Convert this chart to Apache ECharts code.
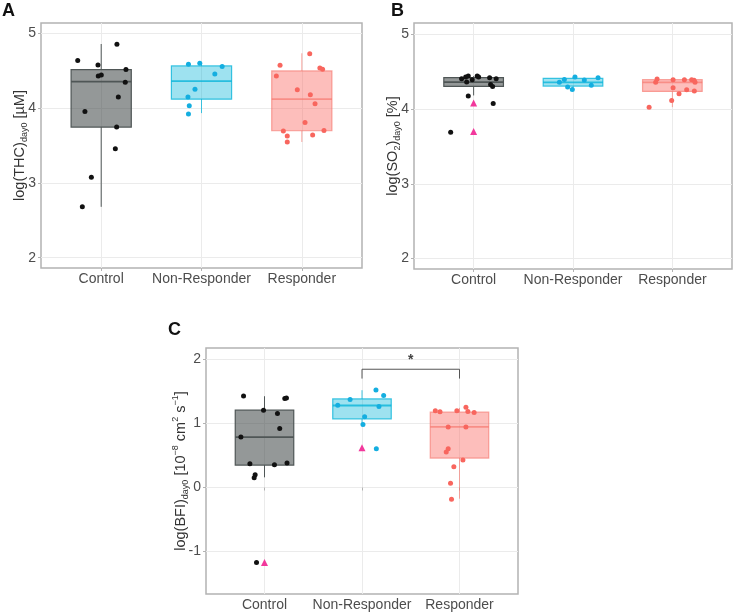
<!DOCTYPE html>
<html>
<head>
<meta charset="utf-8">
<script src="https://cdn.jsdelivr.net/npm/echarts@6/dist/echarts.min.js"></script>
<style>html,body{margin:0;padding:0;background:#fff}#c{width:738px;height:615px}</style>
</head>
<body>
<div id="c"></div>
<script>
// ---------- data ----------
const categories = ['Control', 'Non-Responder', 'Responder'];
const yTicksAB = [2, 3, 4, 5];
const yTicksC = [-1, 0, 1, 2];

// Panel A: log(THC) — box stats [lower, q1, median, q3, upper]
const thcBoxes = [
  [2.68, 3.747, 4.355, 4.515, 4.857],
  [3.933, 4.12, 4.36, 4.564, 4.6],
  [3.547, 3.697, 4.12, 4.497, 4.733]
];
const thcControl = [4.635, 4.853, 4.577, 4.43, 4.444, 4.515, 4.347, 4.147, 3.955, 3.747, 3.457, 3.075, 2.68];
const thcControlJit = [-0.234, 0.157, -0.032, -0.029, 0.001, 0.247, 0.240, 0.171, -0.162, 0.154, 0.141, -0.098, -0.188];
const thcNonResp = [4.587, 4.6, 4.555, 4.457, 4.253, 4.147, 4.031, 3.92];
const thcNonRespJit = [-0.13, -0.017, 0.206, 0.133, -0.065, -0.135, -0.122, -0.13];
const thcResp = [4.728, 4.573, 4.43, 4.537, 4.52, 4.244, 4.177, 4.057, 3.808, 3.693, 3.701, 3.627, 3.64, 3.547];
const thcRespJit = [0.079, -0.217, -0.254, 0.18, 0.207, -0.045, 0.085, 0.132, 0.032, -0.184, 0.221, -0.145, 0.108, -0.145];

// Panel B: log(SO2)
const so2Boxes = [
  [4.185, 4.306, 4.364, 4.423, 4.444],
  [4.266, 4.31, 4.36, 4.413, 4.431],
  [4.028, 4.239, 4.36, 4.396, 4.404]
];
const so2Control = [4.409, 4.431, 4.444, 4.364, 4.396, 4.444, 4.431, 4.423, 4.409, 4.333, 4.306, 4.176, 4.078, 3.693];
const so2ControlJit = [-0.121, -0.08, -0.054, -0.07, -0.014, 0.036, 0.05, 0.161, 0.227, 0.171, 0.191, -0.054, 0.197, -0.231];
const so2ControlTri = [4.082, 3.702];
const so2NonResp = [4.36, 4.4, 4.297, 4.266, 4.431, 4.391, 4.32, 4.423];
const so2NonRespJit = [-0.137, -0.087, -0.054, -0.007, 0.02, 0.114, 0.184, 0.252];
const so2Resp = [4.404, 4.36, 4.396, 4.396, 4.396, 4.387, 4.36, 4.289, 4.262, 4.243, 4.208, 4.118, 4.028];
const so2RespJit = [-0.154, -0.168, 0.007, 0.121, 0.194, 0.218, 0.228, 0.007, 0.144, 0.221, 0.067, -0.007, -0.234];

// Panel C: log(BFI)
const bfiBoxes = [
  [0.159, 0.351, 0.788, 1.209, 1.427],
  [0.98, 1.073, 1.282, 1.385, 1.521],
  [-0.175, 0.46, 0.949, 1.178, 1.245]
];
const bfiControl = [1.432, 1.391, 1.401, 1.209, 1.157, 0.923, 0.788, 0.371, 0.356, 0.382, 0.2, 0.153, -1.173];
const bfiControlJit = [-0.215, 0.208, 0.225, -0.01, 0.133, 0.156, -0.242, -0.15, 0.102, 0.231, -0.096, -0.106, -0.082];
const bfiControlTri = [-1.173];
const bfiNonResp = [1.287, 1.376, 1.526, 1.438, 1.267, 1.105, 0.986, 0.605];
const bfiNonRespJit = [-0.249, -0.122, 0.143, 0.222, 0.174, 0.027, 0.01, 0.147];
const bfiNonRespTri = [0.621];
const bfiResp = [1.2, 1.183, 1.2, 1.256, 1.188, 1.173, 0.944, 0.944, 0.605, 0.554, 0.429, 0.325, 0.066, -0.184];
const bfiRespJit = [-0.248, -0.2, -0.027, 0.066, 0.086, 0.15, -0.116, 0.066, -0.116, -0.136, 0.035, -0.058, -0.092, -0.082];
// significance bracket: [from category, to category, bar level, tick end, star level]
const bfiSignif = [[2, 3, 1.849, 1.703, 1.99]];
const bfiSignifLabel = '*';

// ---------- styles ----------
const boxFill = ['rgba(60,68,68,0.55)', 'rgba(0,178,216,0.38)', 'rgba(250,110,105,0.45)'];
const boxLine = ['#4f5656', 'rgba(0,178,216,0.75)', 'rgba(245,110,100,0.6)'];
const pointColor = ['#111111', '#14aee0', '#f8665e'];
const triColor = '#f2389c';
const FONT = 'Liberation Sans, Arial, sans-serif';

function pts(ci, vals, jit) { return vals.map((v, i) => [ci + (jit ? jit[i] : 0), v]); }

function boxSeries(gi, boxes) {
  return {
    type: 'custom', xAxisIndex: gi, yAxisIndex: gi, z: 2,
    data: boxes.map((b, i) => [i + 1].concat(b)),
    renderItem: function (params, api) {
      const i = params.dataIndex;
      const x = api.value(0), lo = api.value(1), q1 = api.value(2), md = api.value(3), q3 = api.value(4), hi = api.value(5);
      const hw = 0.3;
      const tl = api.coord([x - hw, q3]), br = api.coord([x + hw, q1]);
      const mL = api.coord([x - hw, md]), mR = api.coord([x + hw, md]);
      const wTop = api.coord([x, hi]), wQ3 = api.coord([x, q3]);
      const wBot = api.coord([x, lo]), wQ1 = api.coord([x, q1]);
      const ls = { stroke: boxLine[i], lineWidth: 1 };
      return {
        type: 'group', children: [
          { type: 'line', shape: { x1: wTop[0], y1: wTop[1], x2: wQ3[0], y2: wQ3[1] }, style: ls },
          { type: 'line', shape: { x1: wBot[0], y1: wBot[1], x2: wQ1[0], y2: wQ1[1] }, style: ls },
          { type: 'rect', shape: { x: tl[0], y: tl[1], width: br[0] - tl[0], height: br[1] - tl[1] },
            style: { fill: boxFill[i], stroke: boxLine[i], lineWidth: 1.2 } },
          { type: 'line', shape: { x1: mL[0], y1: mL[1], x2: mR[0], y2: mR[1] }, style: { stroke: boxLine[i], lineWidth: 1.8 } }
        ]
      };
    }
  };
}
function scatterSeries(gi, data, color, symbol, size) {
  return { type: 'scatter', xAxisIndex: gi, yAxisIndex: gi, z: 5, data: data,
    symbol: symbol || 'circle', symbolSize: size || 5, itemStyle: { color: color, opacity: 1 }, silent: true };
}

const grids = [
  { left: 41, top: 23, width: 321, height: 245 },
  { left: 414, top: 23, width: 318, height: 246 },
  { left: 206, top: 348, width: 312, height: 246 }
];
const yRanges = [[1.862, 5.138], [1.858, 5.156], [-1.665, 2.181]];
const yTickSets = [yTicksAB, yTicksAB, yTicksC];
const yNameGaps = [21, 21, 25];
const yNames = [
  'log(THC){sub|day0} [µM]',
  'log(SO{sub|2}){sub|day0} [%]',
  'log(BFI){sub|day0} [10{sup|−8} cm{sup|2} s{sup|−1}]'
];

const option = {
  animation: false,
  backgroundColor: '#fff',
  grid: grids.map(g => Object.assign({ show: true, borderColor: '#b3b3b3', borderWidth: 1.5, backgroundColor: 'transparent' }, g)),
  xAxis: grids.map((g, gi) => ({
    type: 'value', gridIndex: gi, min: 0.4, max: 3.6,
    axisLine: { show: false },
    axisTick: { show: true, customValues: [1, 2, 3], length: 3, lineStyle: { color: '#b3b3b3' } },
    axisLabel: { customValues: [1, 2, 3], formatter: v => categories[Math.round(v) - 1] || '',
      fontFamily: FONT, fontSize: 14, color: '#4d4d4d', margin: 4 },
    splitLine: { show: true, lineStyle: { color: '#ebebeb', width: 1 } }
  })),
  yAxis: grids.map((g, gi) => ({
    type: 'value', gridIndex: gi, min: yRanges[gi][0], max: yRanges[gi][1],
    axisLine: { show: false },
    axisTick: { show: true, customValues: yTickSets[gi], length: 3, lineStyle: { color: '#b3b3b3' } },
    axisLabel: { customValues: yTickSets[gi], fontFamily: FONT, fontSize: 14, color: '#4d4d4d', margin: 5 },
    splitLine: { show: true, lineStyle: { color: '#ebebeb', width: 1 } },
    name: yNames[gi], nameLocation: 'middle', nameGap: yNameGaps[gi], nameRotate: 90, nameMoveOverlap: false,
    nameTextStyle: { fontFamily: FONT, fontSize: 14.5, color: '#333', lineHeight: 19, verticalAlign: 'middle',
      rich: {
        sub: { fontFamily: FONT, fontSize: 9, color: '#333', verticalAlign: 'bottom', lineHeight: 19 },
        sup: { fontFamily: FONT, fontSize: 9, color: '#333', verticalAlign: 'top', lineHeight: 19 }
      } }
  })),
  graphic: [
    { type: 'text', left: 2, top: 2, style: { text: 'A', font: 'bold 18px ' + FONT, fill: '#111' } },
    { type: 'text', left: 391, top: 2, style: { text: 'B', font: 'bold 18px ' + FONT, fill: '#111' } },
    { type: 'text', left: 168, top: 321, style: { text: 'C', font: 'bold 18px ' + FONT, fill: '#111' } }
  ],
  series: [
    boxSeries(0, thcBoxes),
    scatterSeries(0, pts(1, thcControl, thcControlJit), pointColor[0]),
    scatterSeries(0, pts(2, thcNonResp, thcNonRespJit), pointColor[1]),
    scatterSeries(0, pts(3, thcResp, thcRespJit), pointColor[2]),

    boxSeries(1, so2Boxes),
    scatterSeries(1, pts(1, so2Control, so2ControlJit), pointColor[0]),
    scatterSeries(1, pts(1, so2ControlTri), triColor, 'triangle', 7),
    scatterSeries(1, pts(2, so2NonResp, so2NonRespJit), pointColor[1]),
    scatterSeries(1, pts(3, so2Resp, so2RespJit), pointColor[2]),

    boxSeries(2, bfiBoxes),
    scatterSeries(2, pts(1, bfiControl, bfiControlJit), pointColor[0]),
    scatterSeries(2, pts(1, bfiControlTri), triColor, 'triangle', 7),
    scatterSeries(2, pts(2, bfiNonResp, bfiNonRespJit), pointColor[1]),
    scatterSeries(2, pts(2, bfiNonRespTri), triColor, 'triangle', 7),
    scatterSeries(2, pts(3, bfiResp, bfiRespJit), pointColor[2]),
    {
      type: 'custom', xAxisIndex: 2, yAxisIndex: 2, z: 6, data: bfiSignif,
      renderItem: function (params, api) {
        const a = api.value(0), b = api.value(1), lvl = api.value(2), end = api.value(3), st = api.value(4);
        const p1 = api.coord([a, end]), p2 = api.coord([a, lvl]), p3 = api.coord([b, lvl]), p4 = api.coord([b, end]);
        const ps = api.coord([(a + b) / 2, st]);
        return { type: 'group', children: [
          { type: 'polyline', shape: { points: [p1, p2, p3, p4] }, style: { stroke: '#555', lineWidth: 1, fill: null } },
          { type: 'text', x: ps[0], y: ps[1], style: { text: bfiSignifLabel, font: 'bold 14px ' + FONT, fill: '#444', align: 'center', verticalAlign: 'middle' } }
        ] };
      }
    }
  ]
};
const chart = echarts.init(document.getElementById('c'), null, { renderer: 'canvas' });
chart.setOption(option);
</script>
</body>
</html>
